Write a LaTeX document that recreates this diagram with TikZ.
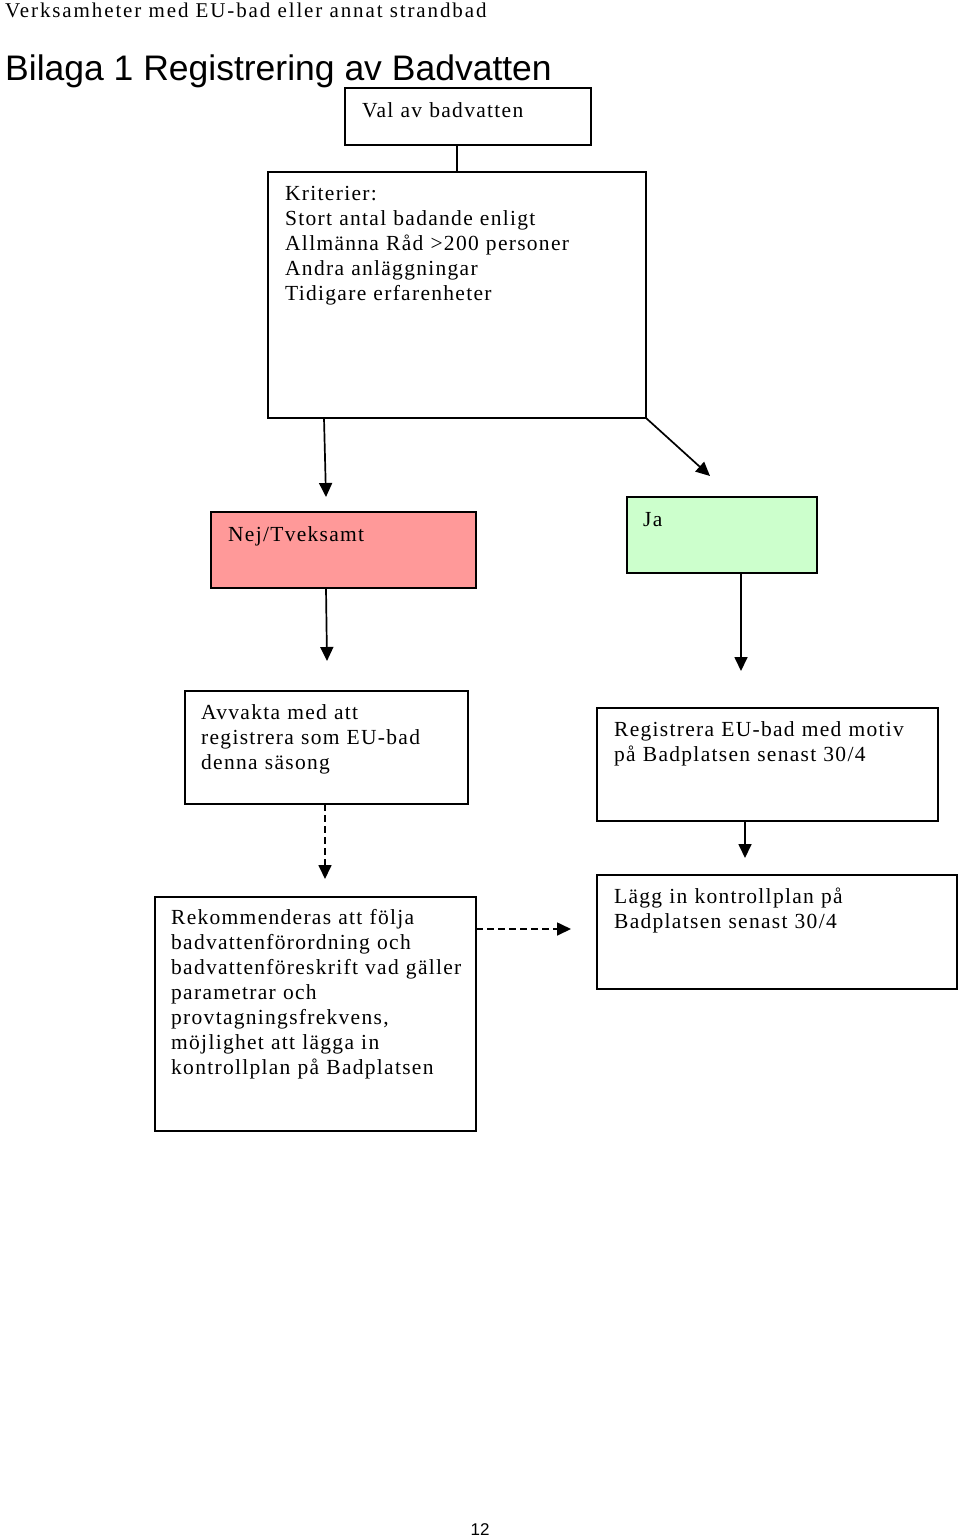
\documentclass[tikz,border=0pt]{standalone}
\usepackage{fontspec}
\setmainfont{Liberation Serif}[LetterSpace=6]
\newfontfamily\hdrfont{Liberation Serif}[LetterSpace=9]
\newfontfamily\titlefont{Liberation Sans}
\usetikzlibrary{arrows.meta,calc}
\definecolor{nejred}{HTML}{FF9999}
\definecolor{jagreen}{HTML}{CCFFCC}
\begin{document}
\begin{tikzpicture}[x=1pt,y=-1pt,
  box/.style={draw,line width=1.8pt,inner sep=0pt,outer sep=0pt,anchor=north west},
  txt/.style={inner sep=0pt,anchor=base west,align=left,text width=500pt,font=\fontsize{21.5}{25}\selectfont},
  arr/.style={line width=1.7pt,-{Triangle[length=14pt,width=13pt]}},
  darr/.style={arr,dash pattern=on 7pt off 4pt}]
\useasboundingbox (0,0) rectangle (960,1537);
\node[inner sep=0pt,anchor=base west,font=\hdrfont\fontsize{21}{24}\selectfont] (hdr) at (5,17) {Verksamheter med EU-bad eller annat strandbad};
\node[inner sep=0pt,anchor=base west,font=\titlefont\fontsize{35.5}{40}\selectfont] (title) at (5,80) {Bilaga 1 Registrering av Badvatten};
\node[box,minimum width=246pt,minimum height=57pt] (val) at (345,88) {};
\node[box,minimum width=378pt,minimum height=246pt] (krit) at (268,172) {};
\node[box,fill=nejred,minimum width=265pt,minimum height=76pt] (nej) at (211,512) {};
\node[box,fill=jagreen,minimum width=190pt,minimum height=76pt] (ja) at (627,497) {};
\node[box,minimum width=283pt,minimum height=113pt] (avv) at (185,691) {};
\node[box,minimum width=341pt,minimum height=113pt] (reg) at (597,708) {};
\node[box,minimum width=321pt,minimum height=234pt] (rek) at (155,897) {};
\node[box,minimum width=360pt,minimum height=114pt] (lagg) at (597,875) {};
\node[txt] (tval) at (362,117) {Val av badvatten};
\node[txt] (tkrit) at (285,200) {Kriterier:\\Stort antal badande enligt\\Allmänna Råd >200 personer\\Andra anläggningar\\Tidigare erfarenheter};
\node[txt] (tnej) at (228,541) {Nej/Tveksamt};
\node[txt] (tja) at (643,526) {Ja};
\node[txt] (tavv) at (201,719) {Avvakta med att\\registrera som EU-bad\\denna säsong};
\node[txt] (treg) at (614,736) {Registrera EU-bad med motiv\\på Badplatsen senast 30/4};
\node[txt] (trek) at (171,924) {Rekommenderas att följa\\badvattenförordning och\\badvattenföreskrift vad gäller\\parametrar och\\provtagningsfrekvens,\\möjlighet att lägga in\\kontrollplan på Badplatsen};
\node[txt] (tlagg) at (614,903) {Lägg in kontrollplan på\\Badplatsen senast 30/4};
\node[inner sep=0pt,anchor=base,font=\titlefont\fontsize{17}{20}\selectfont] (page) at (480,1535) {12};
\draw[line width=1.8pt] ($(val.south west)+(112,0)$) -- ($(krit.north west)+(189,0)$);
\draw[arr] ($(krit.south west)+(56,0)$) -- ($(nej.north west)+(115,-15)$);
\draw[arr] (krit.south east) -- ($(ja.north west)+(83,-21)$);
\draw[arr] ($(nej.south west)+(115,0)$) -- ($(avv.north west)+(142,-30)$);
\draw[arr] ($(ja.south west)+(114,0)$) -- ($(reg.north west)+(144,-37)$);
\draw[darr] ($(avv.south west)+(140,0)$) -- ($(rek.north west)+(170,-18)$);
\draw[arr] ($(reg.south west)+(148,0)$) -- ($(lagg.north west)+(148,-17)$);
\draw[darr] ($(rek.north east)+(0,32)$) -- ($(lagg.north west)+(-26,54)$);
\end{tikzpicture}
\end{document}
